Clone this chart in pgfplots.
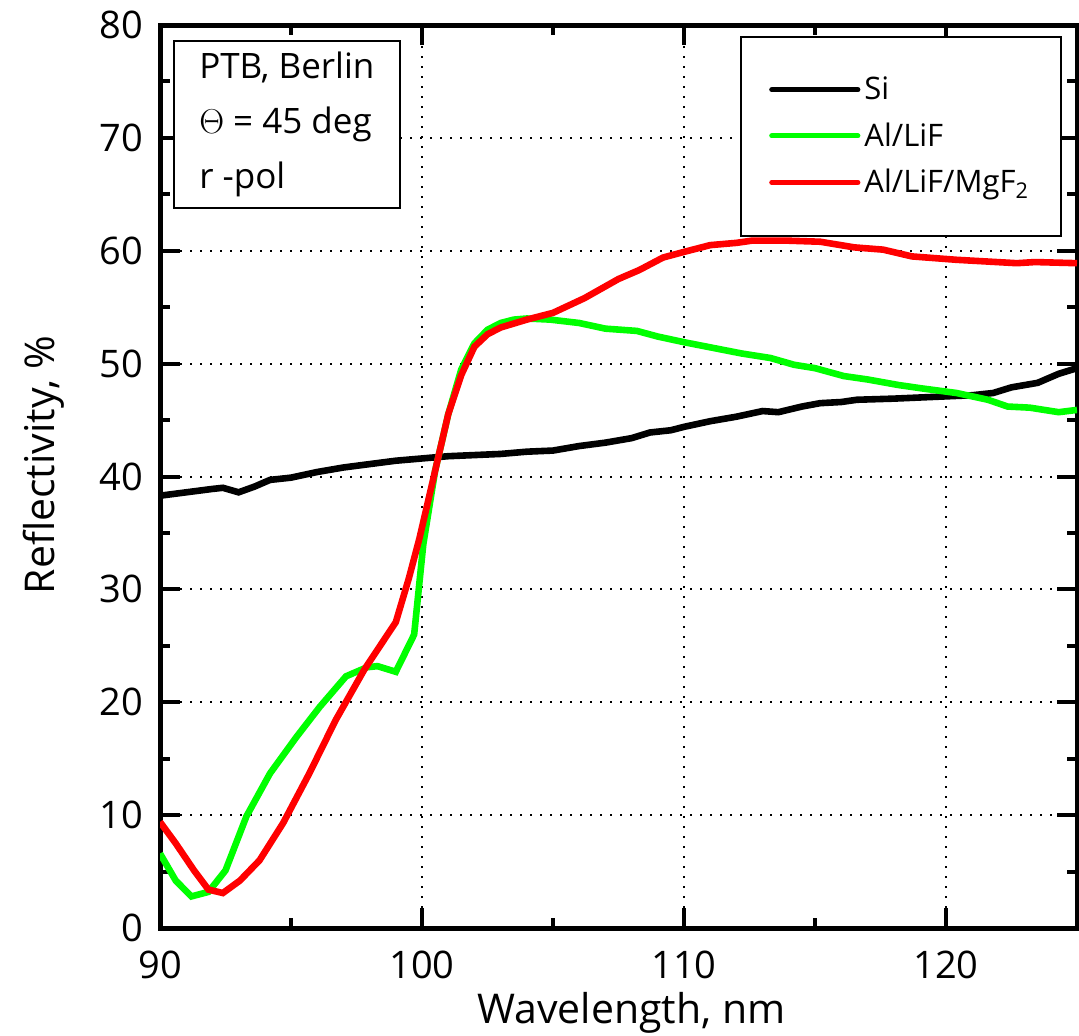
\documentclass[border=0pt]{standalone}
\usepackage{pgfplots}
\pgfplotsset{compat=1.18}
\usepackage{fontspec}
\setmainfont{Open Sans}
\definecolor{pgreen}{RGB}{0,255,0}
\definecolor{pred}{RGB}{255,0,0}
\begin{document}
\begin{tikzpicture}
\useasboundingbox (-80pt,-53.5pt) rectangle (459.5pt,464pt);
\begin{axis}[
  scale only axis,
  width=458.5pt, height=451.5pt,
  xmin=90, xmax=125, ymin=0, ymax=80,
  xtick={90,100,110,120}, ytick={0,10,...,80},
  minor xtick={95,105,115}, minor ytick={5,15,...,75},
  tick align=inside, tick pos=both,
  major tick length=10pt, minor tick length=5pt,
  every tick/.style={black, line width=2pt},
  axis line style={line width=2.5pt},
  grid=major,
  major grid style={black, line width=1pt, dash pattern=on 1pt off 4pt},
  /pgf/number format/assume math mode=true,
  tick label style={font=\fontsize{19}{22}\selectfont},
  xticklabel style={inner sep=0pt, yshift=-11.5pt},
  yticklabel style={xshift=-5pt},
  xlabel={Wavelength, nm}, ylabel={Reflectivity, \%},
  label style={font=\fontsize{20.5}{24}\selectfont},
  xlabel style={at={(axis description cs:0.514,0)}, anchor=base, inner sep=0pt, yshift=-47.5pt},
  ylabel style={at={(axis description cs:-0.1265,0.513)}, anchor=center},
  legend style={at={(0.9836,0.988)}, anchor=north east, draw=black, line width=1pt,
    font=\fontsize{15.5}{18}\selectfont, inner xsep=14pt, inner ysep=18pt,
    row sep=6pt},
  legend cell align=left,
  legend image code/.code={\draw[#1, line cap=round, line width=2.6pt] (0pt,0pt) -- (43pt,0pt);},
]
\addplot[black, line width=3.3pt] coordinates {
(90,38.3) (91,38.6) (92,38.9) (92.4,39.0) (93.0,38.6) (93.6,39.1) (94.2,39.7) (95,39.9)
(96,40.4) (97,40.8) (98,41.1) (99,41.4) (100,41.6) (101,41.8) (102,41.9) (103,42.0)
(104,42.2) (105,42.3) (106,42.7) (107,43.0) (108,43.4) (108.7,43.9) (109.5,44.1)
(110,44.4) (111,44.9) (112,45.3) (113,45.8) (113.6,45.7) (114.5,46.2) (115.2,46.5)
(116,46.6) (116.6,46.8) (118,46.9) (119,47.0) (120,47.1) (121,47.2) (121.8,47.4)
(122.5,47.9) (123.5,48.3) (124.3,49.1) (125,49.6)};
\addlegendentry{Si}
\addplot[pgreen, line width=3.3pt] coordinates {
(90,6.6) (90.6,4.2) (91.2,2.8) (91.85,3.2) (92.5,5.1) (93.3,9.9) (94.2,13.7) (95.2,16.9)
(96.1,19.6) (97.1,22.3) (97.9,23.1) (98.3,23.2) (99.0,22.7) (99.7,26.0) (100.05,34.0)
(100.5,40.5) (101.0,45.5) (101.5,49.5) (102.0,51.8) (102.5,53.0) (103.0,53.6)
(103.5,53.9) (104.0,54.0) (104.9,53.9) (106.0,53.6) (107.0,53.1) (108.2,52.9)
(109.0,52.4) (110.0,51.9) (111.1,51.4) (112.2,50.9) (113.3,50.5) (114.2,49.9)
(115.0,49.6) (116.1,48.9) (117.0,48.6) (118.2,48.1) (119.1,47.8) (120.4,47.4)
(121.6,46.8) (122.35,46.2) (123.2,46.1) (124.3,45.7) (125,45.9)};
\addlegendentry{Al/LiF}
\addplot[pred, line width=3.3pt] coordinates {
(90,9.4) (90.6,7.5) (91.3,5.1) (91.85,3.4) (92.4,3.1) (93.05,4.2) (93.8,6.0) (94.7,9.3)
(95.7,13.7) (96.7,18.4) (97.8,22.9) (99.0,27.1) (99.5,31.0) (99.9,34.5) (100.5,40.5)
(101.0,45.5) (101.5,49.0) (102.0,51.5) (102.5,52.6) (103.0,53.2) (104.0,53.9)
(105.0,54.5) (106.2,55.8) (107.5,57.5) (108.3,58.3) (109.2,59.4) (110.0,59.9)
(111.0,60.5) (112.0,60.7) (112.6,60.9) (113.9,60.9) (115.2,60.8) (116.5,60.3)
(117.6,60.1) (118.7,59.5) (120.4,59.2) (122.7,58.9) (123.4,59.0) (125,58.9)};
\addlegendentry{Al/LiF/MgF\textsubscript{2}}
\node[draw=black, line width=1pt, fill=white, anchor=north west, align=left,
  font=\fontsize{17.5}{27.5}\selectfont, inner xsep=8pt, inner ysep=3pt,
  minimum width=113pt, minimum height=83.5pt]
  at (rel axis cs:0.014,0.983) {PTB, Berlin\\$\Theta$ = 45 deg\\r -pol};
\end{axis}
\end{tikzpicture}
\end{document}
